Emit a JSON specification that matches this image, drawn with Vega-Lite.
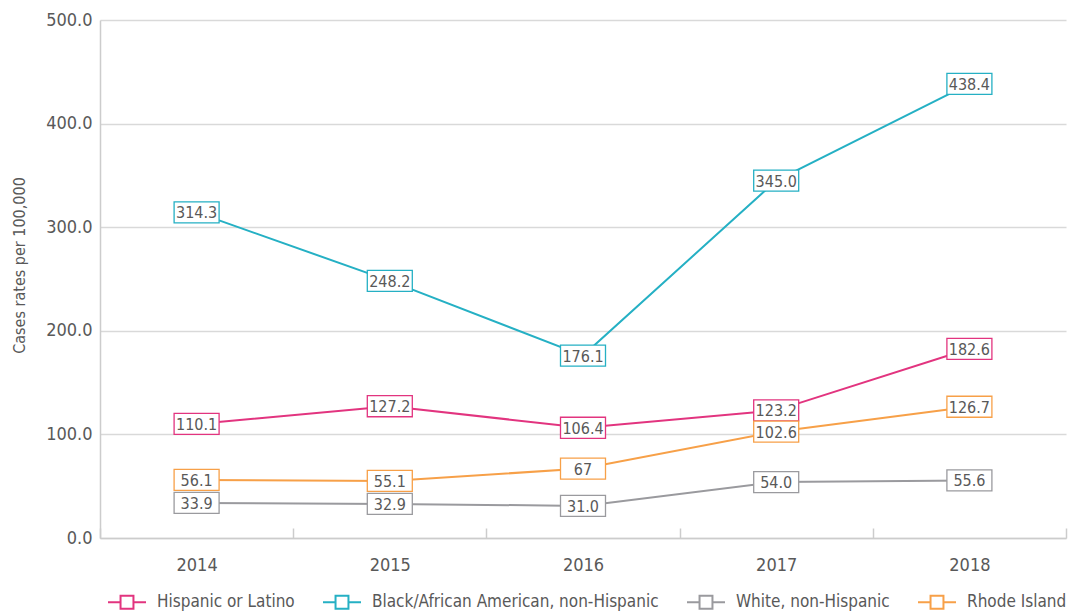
{
  "$schema": "https://vega.github.io/schema/vega-lite/v6.json",
  "width": 966,
  "height": 518,
  "autosize": "none",
  "padding": {"left": 100, "top": 20, "right": 7, "bottom": 78},
  "background": "white",
  "config": {
    "view": {"stroke": null},
    "font": "DejaVu Sans Condensed, DejaVu Sans, sans-serif"
  },
  "data": {
    "values": [
      {"year": "2014", "group": "Hispanic or Latino", "rate": 110.1, "label": "110.1"},
      {"year": "2015", "group": "Hispanic or Latino", "rate": 127.2, "label": "127.2"},
      {"year": "2016", "group": "Hispanic or Latino", "rate": 106.4, "label": "106.4"},
      {"year": "2017", "group": "Hispanic or Latino", "rate": 123.2, "label": "123.2"},
      {"year": "2018", "group": "Hispanic or Latino", "rate": 182.6, "label": "182.6"},
      {"year": "2014", "group": " Black/African American, non-Hispanic", "rate": 314.3, "label": "314.3"},
      {"year": "2015", "group": " Black/African American, non-Hispanic", "rate": 248.2, "label": "248.2"},
      {"year": "2016", "group": " Black/African American, non-Hispanic", "rate": 176.1, "label": "176.1"},
      {"year": "2017", "group": " Black/African American, non-Hispanic", "rate": 345.0, "label": "345.0"},
      {"year": "2018", "group": " Black/African American, non-Hispanic", "rate": 438.4, "label": "438.4"},
      {"year": "2014", "group": "White, non-Hispanic", "rate": 33.9, "label": "33.9"},
      {"year": "2015", "group": "White, non-Hispanic", "rate": 32.9, "label": "32.9"},
      {"year": "2016", "group": "White, non-Hispanic", "rate": 31.0, "label": "31.0"},
      {"year": "2017", "group": "White, non-Hispanic", "rate": 54.0, "label": "54.0"},
      {"year": "2018", "group": "White, non-Hispanic", "rate": 55.6, "label": "55.6"},
      {"year": "2014", "group": "Rhode Island", "rate": 56.1, "label": "56.1"},
      {"year": "2015", "group": "Rhode Island", "rate": 55.1, "label": "55.1"},
      {"year": "2016", "group": "Rhode Island", "rate": 67, "label": "67"},
      {"year": "2017", "group": "Rhode Island", "rate": 102.6, "label": "102.6"},
      {"year": "2018", "group": "Rhode Island", "rate": 126.7, "label": "126.7"}
    ]
  },
  "encoding": {
    "x": {
      "field": "year", "type": "ordinal",
      "scale": {"type": "band", "paddingInner": 0, "paddingOuter": 0},
      "axis": {
        "title": null, "labelAngle": 0, "tickBand": "extent", "tickSize": -10,
        "tickColor": "#cccccc", "tickWidth": 1.5, "domainColor": "#cccccc", "domainWidth": 1.5,
        "labelFontSize": 18, "labelColor": "#595959", "labelPadding": 28, "grid": false
      }
    },
    "y": {
      "field": "rate", "type": "quantitative",
      "scale": {"domain": [0, 500]},
      "axis": {
        "title": "Cases rates per 100,000", "titleFontSize": 16, "titleFontWeight": "normal",
        "titleColor": "#595959", "titlePadding": 18, "titleY": 245,
        "values": [0, 100, 200, 300, 400, 500], "format": ".1f",
        "labelFontSize": 18, "labelColor": "#595959", "labelPadding": 8,
        "ticks": false, "grid": true, "gridColor": "#d9d9d9", "gridWidth": 1.5,
        "domainColor": "#cccccc", "domainWidth": 1.5
      }
    }
  },
  "layer": [
    {
      "mark": {"type": "line", "strokeWidth": 2},
      "encoding": {
        "color": {
          "field": "group", "type": "nominal",
          "scale": {
            "domain": ["Hispanic or Latino", " Black/African American, non-Hispanic", "White, non-Hispanic", "Rhode Island"],
            "range": ["#e2347f", "#25b0c4", "#9a9a9e", "#f7a048"]
          },
          "legend": {
            "orient": "none", "legendX": 7, "legendY": 562,
            "direction": "horizontal", "columns": 4, "title": null,
            "symbolType": "M-1,0L-0.34,0M0.34,0L1,0M-0.34,-0.34L0.34,-0.34L0.34,0.34L-0.34,0.34Z",
            "symbolSize": 1444, "symbolStrokeWidth": 2,
            "labelFontSize": 17, "labelColor": "#595959", "labelOffset": 10, "labelLimit": 500,
            "columnPadding": 24,
            "encode": {"symbols": {"update": {"fill": {"value": "white"}, "fillOpacity": {"value": 1}}}}
          }
        }
      }
    },
    {
      "mark": {
        "type": "point", "filled": false,
        "shape": "M-1,-0.467L1,-0.467L1,0.467L-1,0.467Z",
        "size": 2025, "fill": "white", "fillOpacity": 1, "strokeWidth": 1.3, "opacity": 1
      },
      "encoding": {
        "stroke": {
          "field": "group", "type": "nominal",
          "scale": {
            "domain": ["Hispanic or Latino", " Black/African American, non-Hispanic", "White, non-Hispanic", "Rhode Island"],
            "range": ["#e2347f", "#25b0c4", "#9a9a9e", "#f7a048"]
          },
          "legend": null
        }
      }
    },
    {
      "mark": {"type": "text", "fontSize": 16, "color": "#595959", "align": "center", "baseline": "middle", "dy": 1},
      "encoding": {"text": {"field": "label", "type": "nominal"}}
    }
  ]
}
